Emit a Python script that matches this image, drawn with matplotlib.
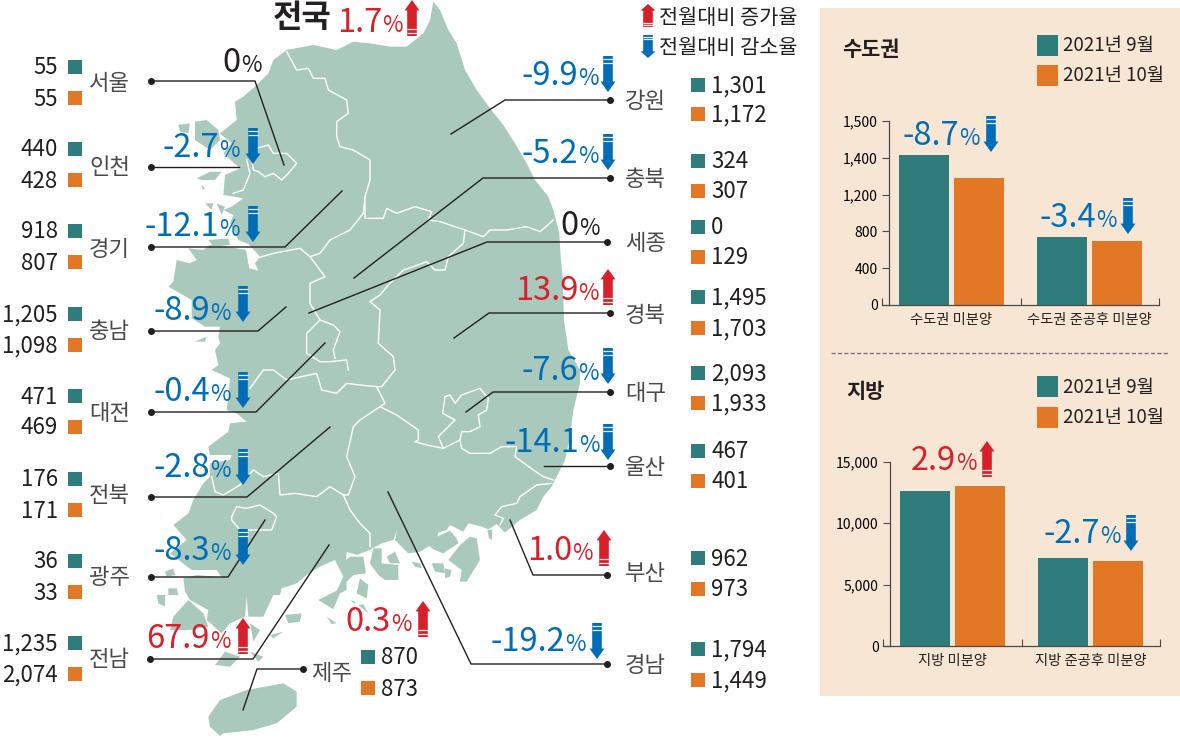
import numpy as np
import matplotlib
matplotlib.use("Agg")
import matplotlib.pyplot as plt
from matplotlib.patches import Polygon, Rectangle

plt.rcParams['font.family'] = ['Noto Sans CJK KR', 'DejaVu Sans']

# ---------- data ----------
regions_left = ['서울', '인천', '경기', '충남', '대전', '전북', '광주', '전남']
sep_left = ['55', '440', '918', '1,205', '471', '176', '36', '1,235']
oct_left = ['55', '428', '807', '1,098', '469', '171', '33', '2,074']
regions_right = ['강원', '충북', '세종', '경북', '대구', '울산', '부산', '경남']
sep_right = ['1,301', '324', '0', '1,495', '2,093', '467', '962', '1,794']
oct_right = ['1,172', '307', '129', '1,703', '1,933', '401', '973', '1,449']
jeju_values = ['870', '873']
change_left = ['0', '-2.7', '-12.1', '-8.9', '-0.4', '-2.8', '-8.3', '67.9']
change_right = ['-9.9', '-5.2', '0', '13.9', '-7.6', '-14.1', '1.0', '-19.2']
change_jeju = '0.3'
change_all = '1.7'
series_names = ['2021년 9월', '2021년 10월']
metro_cats = ['수도권 미분양', '수도권 준공후 미분양']
metro_sep = [1407, 735]
metro_oct = [1292, 700]
metro_ticks = [0, 400, 800, 1200, 1400, 1500]
local_cats = ['지방 미분양', '지방 준공후 미분양']
local_sep = [12610, 7160]
local_oct = [13020, 6940]
local_ticks = [0, 5000, 10000, 15000]

# ---------- style ----------
TEAL, ORANGE, MAP = '#2e7d7c', '#e27826', '#aac9bd'
RED, BLUE, BG = '#d7202a', '#006db6', '#f8e6d5'
INK, GREY = '#231f20', '#4a4a4a'

fig = plt.figure(figsize=(11.8, 7.38), dpi=100, facecolor='white')
ax = fig.add_axes([0, 0, 1, 1])
ax.set_xlim(0, 1180)
ax.set_ylim(738, 0)
ax.axis('off')


def crop(ox, oy):
    return lambda p: [(ox + x / 3, oy + y / 3) for x, y in p]


z2, z3 = crop(140, 0), crop(140, 370)
ca, cb, cc, cd = crop(150, 520), crop(340, 510), crop(160, 100), crop(160, 300)

# ---------- map ----------
main = z2([(880, 5), (900, 30), (925, 90), (950, 130), (975, 210), (1010, 270), (1050, 325), (1090, 375), (1125, 430),
           (1160, 490), (1185, 540), (1225, 590), (1240, 630), (1258, 700), (1262, 770), (1268, 830), (1272, 960),
           (1285, 1050), (1320, 1110)]) + \
    z3([(1320, 40), (1310, 80), (1300, 120), (1290, 200), (1275, 270), (1250, 320), (1235, 350), (1210, 380),
        (1190, 420), (1140, 450)]) + \
    cb([(495, 68), (470, 42), (445, 58), (425, 50), (385, 40), (370, 65), (330, 45), (320, 60), (295, 68), (292, 80),
        (330, 62), (350, 85), (355, 100), (310, 130), (280, 118), (268, 108), (240, 125), (205, 130), (165, 90),
        (172, 58), (160, 90), (125, 100), (85, 122), (50, 135), (20, 125), (18, 150), (30, 140), (70, 140), (78, 190),
        (40, 195), (20, 215), (20, 240), (0, 250)]) + \
    ca([(550, 268), (505, 240), (560, 212), (580, 170), (555, 120), (510, 140), (470, 165), (440, 190), (395, 205),
        (390, 225), (370, 225), (340, 290), (295, 290), (290, 230), (285, 290), (240, 310), (215, 340), (170, 300),
        (175, 270), (120, 240), (105, 215), (100, 175), (140, 165), (215, 172), (200, 150), (125, 150), (60, 100),
        (110, 60), (70, 15)]) + \
    cd([(85, 640), (100, 600), (130, 550), (150, 530), (150, 490), (210, 480), (215, 465), (150, 465), (145, 440),
        (205, 395), (210, 370), (260, 365), (230, 340), (200, 330), (205, 290), (210, 235), (155, 210), (175, 195),
        (165, 150), (180, 130), (175, 110), (180, 80), (135, 80), (95, 55), (95, 0)]) + \
    cc([(25, 560), (40, 545), (50, 480), (88, 490), (110, 480), (85, 445), (130, 450), (150, 435), (200, 440),
        (258, 450), (268, 505), (295, 512), (285, 490), (300, 470), (265, 432), (235, 420), (210, 370), (220, 345),
        (190, 330), (215, 320), (250, 295), (190, 285), (195, 225), (240, 205), (190, 160), (215, 130), (180, 100),
        (230, 60), (225, 5)]) + \
    z2([(310, 290), (345, 260), (385, 220), (400, 180), (440, 150), (520, 135), (590, 150), (640, 125), (690, 130),
        (750, 140), (800, 140), (850, 100), (870, 60)])
ax.add_patch(Polygon(main, closed=True, fc=MAP, ec='none', zorder=1))
islands = [
    cc([(105, 65), (140, 60), (175, 90), (180, 120), (150, 150), (105, 120)]),
    cc([(55, 75), (90, 70), (85, 100), (60, 95)]),
    cc([(110, 235), (150, 215), (185, 215), (165, 240), (125, 240)]),
    cc([(125, 255), (135, 265), (128, 270)]),
    cc([(135, 310), (160, 310), (155, 330)]),
    cc([(170, 310), (195, 320), (185, 345)]),
    cc([(145, 420), (205, 415), (210, 435), (160, 440)]),
    cd([(105, 125), (140, 110), (135, 125)]),
    z3([(205, 1040), (240, 990), (320, 960), (430, 940), (470, 965), (470, 1010), (410, 1060), (340, 1080),
        (250, 1090), (240, 1098), (210, 1070)]),
    ca([(405, 285), (455, 280), (450, 305), (415, 310)]),
    ca([(530, 290), (560, 310), (545, 312)]),
    ca([(300, 310), (330, 330), (310, 365)]),
    ca([(360, 345), (400, 335), (370, 355)]),
    ca([(195, 435), (225, 395), (270, 410), (240, 440)]),
    ca([(300, 395), (340, 410), (325, 425)]),
    ca([(70, 290), (115, 240), (160, 280), (175, 320), (120, 330), (60, 330)]),
    ca([(55, 205), (80, 205), (85, 225), (55, 225)]),
    ca([(20, 225), (45, 225), (45, 260), (25, 250)]),
    ca([(45, 155), (70, 145), (75, 165), (50, 170)]),
    cb([(360, 105), (390, 80), (410, 85), (420, 150), (380, 215), (360, 215), (365, 180), (325, 150)]),
    cb([(100, 115), (125, 115), (125, 160), (175, 165), (175, 210), (135, 210), (115, 195), (90, 160)]),
    cb([(140, 140), (165, 125), (180, 160), (150, 160)]),
    cb([(215, 155), (240, 160), (245, 175), (225, 170)]),
    cb([(275, 160), (310, 160), (315, 190), (285, 185)]),
    cb([(315, 175), (335, 180), (330, 200), (315, 205)]),
    cb([(442, 60), (457, 58), (455, 90), (447, 85)]),
    cb([(60, 205), (85, 225), (80, 265), (50, 250)]),
    cb([(30, 270), (45, 275), (45, 282)]),
    cb([(55, 285), (70, 283), (85, 310)]),
]
for isl in islands:
    ax.add_patch(Polygon(isl, closed=True, fc=MAP, ec='none', zorder=1))

borders = [
    z2([(440, 155), (470, 210), (505, 205), (520, 235), (555, 235), (565, 270), (620, 300), (625, 340), (590, 365),
        (590, 410), (600, 440), (640, 450), (690, 480), (690, 540), (675, 590), (675, 655), (730, 655), (740, 625),
        (770, 640), (825, 620), (875, 635), (865, 660), (900, 665), (945, 680), (975, 690), (1030, 710), (1050, 690),
        (1100, 690), (1160, 680), (1200, 695), (1240, 660)]),
    z2([(975, 690), (970, 730), (925, 770), (915, 810), (885, 810), (860, 785), (820, 800), (790, 810), (745, 855),
        (720, 885), (690, 905), (720, 930), (715, 1030), (760, 1070), (765, 1110)]),
    z2([(675, 590), (670, 640), (630, 690), (570, 720), (540, 760), (510, 770), (480, 745), (400, 760), (350, 775)]),
    z2([(510, 770), (555, 830), (510, 850), (510, 910), (540, 960), (500, 1000), (500, 1060), (540, 1085), (570, 1085),
        (620, 1080), (625, 1110)]),
    z2([(540, 960), (580, 975), (600, 995), (580, 1050), (585, 1075)]),
    z2([(335, 470), (350, 445), (385, 435), (400, 460), (440, 460), (470, 490), (445, 520), (425, 540), (400, 520),
        (375, 530), (355, 515), (340, 510), (335, 470)]),
    z2([(320, 480), (330, 520), (310, 570), (280, 580)]),
    z3([(330, 55), (370, 0), (400, 0), (440, 30), (530, 10), (545, 60), (590, 70), (620, 40), (660, 45), (710, 50),
        (735, 100), (720, 110), (660, 150), (640, 170), (620, 260), (645, 320), (625, 375), (610, 375)]),
    z3([(765, 0), (725, 50), (710, 50)]),
    z3([(215, 320), (225, 365), (250, 375), (300, 345), (340, 300), (370, 320), (415, 310), (420, 375), (465, 370),
        (530, 380), (570, 350), (610, 375), (630, 420), (660, 460), (690, 490), (690, 530)]),
    z3([(720, 110), (770, 135), (835, 180), (835, 210), (825, 215), (860, 225), (910, 235), (960, 210), (965, 235),
        (990, 250), (1050, 250), (1085, 230), (1130, 230), (1125, 260), (1180, 300), (1210, 320), (1240, 330)]),
    z3([(1235, 340), (1190, 345), (1140, 380), (1130, 400), (1085, 410), (1065, 435), (1090, 445), (1080, 465)]),
    z3([(915, 80), (930, 75), (945, 100), (965, 75), (1020, 55), (1045, 85), (1040, 120), (1015, 135), (1020, 170),
        (990, 185), (965, 185), (960, 210)]),
    z3([(915, 80), (908, 130), (945, 150), (915, 180), (895, 200), (910, 235)]),
    z3([(275, 440), (290, 410), (320, 415), (360, 405), (400, 430), (410, 440), (395, 480), (350, 480), (300, 480),
        (275, 450), (275, 440)]),
]
for b in borders:
    xs, ys = zip(*b)
    ax.plot(xs, ys, color='white', lw=1.0, zorder=2, solid_joinstyle='round')

# ---------- leader lines ----------
leaders = {
    '서울': [(151, 81), (255, 81), (284, 165)], '인천': [(151, 167), (239, 167)],
    '경기': [(151, 247), (285, 247), (342, 191)], '충남': [(151, 331), (258, 331), (286, 307)],
    '대전': [(151, 412), (256, 412), (325, 343)], '전북': [(151, 497), (247, 497), (330, 427)],
    '광주': [(151, 577), (228, 577), (265, 520)], '전남': [(150, 659), (253, 659), (329, 545)],
    '제주': [(303, 669), (257, 669), (243, 710)], '강원': [(610, 100), (505, 100), (451, 134)],
    '충북': [(610, 178), (483, 178), (354, 278)], '세종': [(607, 242), (487, 242), (309, 313)],
    '경북': [(610, 313), (489, 313), (454, 338)], '대구': [(610, 392), (493, 392), (466, 412)],
    '울산': [(610, 466), (544, 466)], '부산': [(607, 575), (533, 575), (510, 520)],
    '경남': [(607, 664), (471, 664), (388, 492)],
}
for pts in leaders.values():
    xs, ys = zip(*pts)
    ax.plot(xs, ys, color=INK, lw=1.0, zorder=3)
    ax.plot(xs[0], ys[0], 'o', color=INK, ms=4.0, zorder=3)


def arrow(a, x, top, bot, up, color):
    sw, hw = 4.8, 7.5
    h = (bot - top) * 0.29
    if up:
        pts = [(x, top), (x + hw, top + h), (x + sw, top + h), (x + sw, bot), (x - sw, bot), (x - sw, top + h),
               (x - hw, top + h)]
        gaps = [bot - (bot - top) * .19, bot - (bot - top) * .08]
    else:
        pts = [(x, bot), (x + hw, bot - h), (x + sw, bot - h), (x + sw, top), (x - sw, top), (x - sw, bot - h),
               (x - hw, bot - h)]
        gaps = [top + (bot - top) * .08, top + (bot - top) * .19]
    a.add_patch(Polygon(pts, closed=True, fc=color, ec='none', zorder=5))
    for g in gaps:
        a.plot([x - sw, x + sw], [g, g], color='white', lw=0.9, alpha=.9, zorder=6, solid_capstyle='butt')


def pct(a, value, xp, base, ax_x=None, top=None, size=23.5, psize=16):
    v = float(value)
    col = INK if v == 0 else (RED if v > 0 else BLUE)
    a.text(xp + 1, base, value, ha='right', va='baseline', fontsize=size, color=col, zorder=7)
    a.text(xp + 1.5, base, '%', ha='left', va='baseline', fontsize=psize, color=col, zorder=7)
    if ax_x is not None:
        arrow(a, ax_x, top, top + 36, v > 0, col)


left_pct = [(240, 72, None, None), (218, 157, 253, 128), (218, 236, 253, 206), (209, 320, 243, 286),
            (209, 401, 243, 372), (209, 477, 243, 449), (209, 560, 243, 529), (209, 648, 243, 618)]
right_pct = [(577, 85, 608, 56), (577, 163, 608, 134), (578, 235, None, None), (577, 300, 608, 269),
             (577, 380, 608, 348), (578, 452, 608, 424), (571, 560, 604, 530), (564, 651, 597, 623)]
left_rows = [(67, 98, 82), (149, 180, 165), (231, 262, 247), (314, 345, 329), (396, 427, 411), (479, 510, 494),
             (561, 592, 576), (643, 674, 657)]
right_rows = [(85, 114, 100), (161, 191, 177), (227, 257, 242), (297, 328, 313), (373, 403, 391), (451, 481, 466),
              (558, 589, 571), (649, 680, 664)]


def square(x, y, c):
    ax.add_patch(Rectangle((x, y - 7), 14, 14, fc=c, ec='none', zorder=5))


for i, name in enumerate(regions_left):
    y1, y2, ym = left_rows[i]
    ax.text(58, y1 + 1, sep_left[i], ha='right', va='center', fontsize=16, color=INK)
    ax.text(58, y2 + 1, oct_left[i], ha='right', va='center', fontsize=16, color=INK)
    square(68, y1, TEAL)
    square(68, y2, ORANGE)
    ax.text(89, ym + 2, name, ha='left', va='center', fontsize=16, color=GREY)
    pct(ax, change_left[i], *left_pct[i])
for i, name in enumerate(regions_right):
    y1, y2, ym = right_rows[i]
    ax.text(711, y1 + 1, sep_right[i], ha='left', va='center', fontsize=16, color=INK)
    ax.text(711, y2 + 1, oct_right[i], ha='left', va='center', fontsize=16, color=INK)
    square(691, y1, TEAL)
    square(691, y2, ORANGE)
    ax.text(625, ym + 2, name, ha='left', va='center', fontsize=16, color=GREY)
    pct(ax, change_right[i], *right_pct[i])

# Jeju
square(361, 657, TEAL)
square(361, 688, ORANGE)
ax.text(381, 658, jeju_values[0], ha='left', va='center', fontsize=16, color=INK)
ax.text(381, 689, jeju_values[1], ha='left', va='center', fontsize=16, color=INK)
ax.text(311, 674, '제주', ha='left', va='center', fontsize=16, color=GREY)
pct(ax, change_jeju, 390, 631, 423, 601)

# national + arrow legend
ax.text(302, 18, '전국', ha='center', va='center', fontsize=23, fontweight='bold', color=INK)
pct(ax, change_all, 381, 32, 412, 0)
arrow(ax, 648, 4, 27, True, RED)
arrow(ax, 648, 35, 58, False, BLUE)
ax.text(659, 18, '전월대비 증가율', ha='left', va='center', fontsize=15, color=INK)
ax.text(659, 48, '전월대비 감소율', ha='left', va='center', fontsize=15, color=INK)

# ---------- right panel ----------
ax.add_patch(Rectangle((820, 8), 360, 688, fc=BG, ec='none', zorder=0))
ax.plot([831, 1169], [353, 353], color='#7d6f8f', lw=1, ls=(0, (3, 1.6)), zorder=1)
for title, xt, yt, ys in [('수도권', 842, 49, (45, 75)), ('지방', 846, 391, (386, 417))]:
    ax.text(xt, yt, title, ha='left', va='center', fontsize=15, fontweight='bold', color=INK)
    for c, y, nm in zip((TEAL, ORANGE), ys, series_names):
        ax.add_patch(Rectangle((1037, y - 10.5), 21, 21, fc=c, ec='none', zorder=2))
        ax.text(1063, y + 1, nm, ha='left', va='center', fontsize=13.5, color=INK)


def bar_axes(left, top, bottom, cats, sep, oct_, ticks, scaled):
    a = fig.add_axes([left / 1180, 1 - bottom / 738, 277 / 1180, (bottom - top) / 738], facecolor='none')
    if scaled:
        uniform = np.arange(len(ticks), dtype=float)
        a.set_yscale('function', functions=(lambda v: np.interp(v, ticks, uniform),
                                            lambda u: np.interp(u, uniform, ticks)))
    x = np.arange(len(cats))
    a.bar(x - 0.2, sep, width=0.361, color=TEAL)
    a.bar(x + 0.2, oct_, width=0.361, color=ORANGE)
    a.set_xlim(-0.5, 1.5)
    a.set_ylim(0, ticks[-1])
    a.set_yticks(ticks)
    a.set_yticklabels([f'{t:,}' for t in ticks], fontsize=9.8, color=GREY)
    a.yaxis.set_minor_locator(matplotlib.ticker.NullLocator())
    a.set_xticks([-0.5, 0.5, 1.5])
    a.set_xticklabels([])
    a.set_xticks(x, minor=True)
    a.set_xticklabels(cats, minor=True, fontsize=10.3, color=INK)
    a.tick_params(axis='x', which='minor', length=0, pad=6)
    a.tick_params(axis='x', which='major', length=5, direction='in', color=GREY, width=0.8)
    a.tick_params(axis='y', length=5, direction='out', color=GREY, width=0.8, pad=3)
    for s in ('top', 'right'):
        a.spines[s].set_visible(False)
    a.spines['left'].set_position(('outward', -5))
    for s in ('left', 'bottom'):
        a.spines[s].set_color(GREY)
        a.spines[s].set_linewidth(0.9)
    return a


bar_axes(882, 121, 305, metro_cats, metro_sep, metro_oct, metro_ticks, True)
bar_axes(883, 461.7, 646, local_cats, local_sep, local_oct, local_ticks, False)

pct(ax, '-8.7', 958, 145, 991, 116)
pct(ax, '-3.4', 1095, 227, 1128, 198)
pct(ax, '2.9', 955, 470, 987, 441)
pct(ax, '-2.7', 1099, 543, 1131, 515)

fig.savefig('out.png', dpi=100, facecolor='white')
